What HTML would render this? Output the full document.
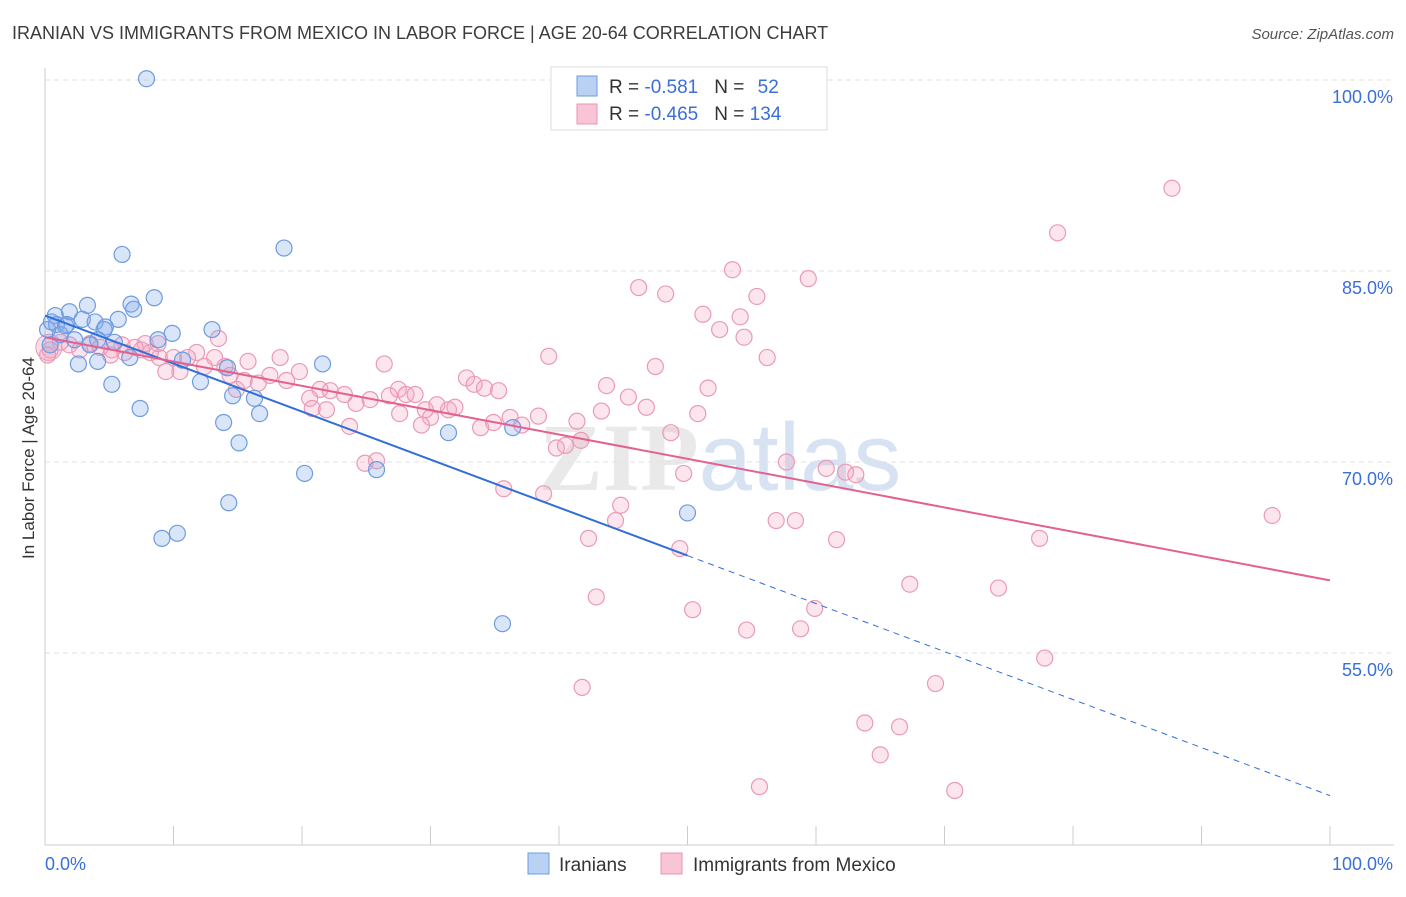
<!DOCTYPE html>
<html><head><meta charset="utf-8"><style>
body{margin:0;background:#fff;font-family:"Liberation Sans",sans-serif;}
</style></head><body>
<svg id="c" width="1406" height="892" xmlns="http://www.w3.org/2000/svg">
<text x="12" y="39" font-size="18" fill="#3c3c3c">IRANIAN VS IMMIGRANTS FROM MEXICO IN LABOR FORCE | AGE 20-64 CORRELATION CHART</text>
<text x="1394" y="39" font-size="15" fill="#555" font-style="italic" text-anchor="end">Source: ZipAtlas.com</text>
<text x="720" y="490" font-size="96" font-weight="bold" fill="#d8d8d8" opacity="0.55" text-anchor="middle" font-family="Liberation Serif, serif">ZIP<tspan fill="#b8cdea" font-family="Liberation Sans, sans-serif" font-weight="normal">atlas</tspan></text>
<g id="grid"></g><g id="axes"></g><g id="pts"></g><g id="lines"></g>
<text transform="translate(34,458) rotate(-90)" font-size="17" fill="#333" text-anchor="middle">In Labor Force | Age 20-64</text>
<g>
<rect x="551" y="67" width="276" height="63" fill="#fff" stroke="#ddd"/>
<rect x="577" y="76" width="20" height="20" fill="#b9d1f3" stroke="#6f9be0"/>
<rect x="577" y="104" width="20" height="20" fill="#f9c5d6" stroke="#e895b2"/>
<text x="609" y="93" font-size="19" fill="#333">R = <tspan fill="#3a6fd8">-0.581</tspan><tspan dx="16">N = </tspan><tspan dx="8" fill="#3a6fd8">52</tspan></text>
<text x="609" y="120" font-size="19" fill="#333">R = <tspan fill="#3a6fd8">-0.465</tspan><tspan dx="16">N = </tspan><tspan fill="#3a6fd8">134</tspan></text>
</g>
<g>
<rect x="528" y="853" width="21" height="21" fill="#b9d1f3" stroke="#6f9be0"/>
<text x="559" y="871" font-size="19" fill="#333">Iranians</text>
<rect x="661" y="853" width="21" height="21" fill="#f9c5d6" stroke="#e895b2"/>
<text x="693" y="871" font-size="19" fill="#333">Immigrants from Mexico</text>
</g>
</svg>
<script>
const yTicks=[100,85,70,55];
const xTickLabels=["0.0%","100.0%"];
const blueX=[7.9,6.0,18.6,8.5,6.7,6.9,3.3,1.9,0.8,0.9,1.7,2.9,3.9,4.7,5.7,4.6,1.2,2.3,4.1,5.4,3.5,0.4,9.9,13.0,8.8,10.7,6.6,2.6,4.1,21.6,5.2,12.1,14.2,14.6,16.3,16.7,7.4,13.9,15.1,31.4,36.4,20.2,25.8,14.3,50.0,9.1,10.3,35.6,0.2,0.5,1.6];
const blueY=[100.1,86.3,86.8,82.9,82.4,82.0,82.3,81.8,81.5,80.8,80.8,81.2,81.0,80.6,81.2,80.4,80.0,79.6,79.6,79.4,79.2,79.2,80.1,80.4,79.6,78.0,78.2,77.7,77.9,77.7,76.1,76.3,77.4,75.2,75.0,73.8,74.2,73.1,71.5,72.3,72.7,69.1,69.4,66.8,66.0,64.0,64.4,57.3,80.4,81.0,80.7];
const pinkX=[87.7,78.8,53.5,59.4,46.2,48.3,55.4,51.2,54.1,52.5,54.4,39.2,56.2,47.5,26.4,43.7,51.6,45.4,43.3,46.8,50.8,32.8,33.4,34.2,35.3,48.7,41.4,38.4,36.2,37.1,34.9,33.9,30.5,31.4,31.9,29.6,30.0,29.3,27.5,28.1,28.8,26.8,27.6,25.3,24.2,23.3,22.2,21.4,20.6,21.9,20.8,19.8,18.8,18.3,17.5,16.6,15.5,14.4,14.9,13.2,14.0,11.8,12.4,11.1,10.5,9.4,10.0,8.9,8.2,7.8,7.0,6.2,5.2,4.3,3.5,2.7,1.9,1.2,0.4,0.2,6.0,5.1,7.5,8.8,13.5,15.8,23.7,24.9,25.8,38.8,39.8,40.5,41.7,35.7,49.7,57.7,60.8,62.3,63.1,44.8,44.4,42.3,56.9,58.4,61.6,77.4,95.5,49.4,42.9,50.4,59.9,67.3,74.2,54.6,58.8,77.8,41.8,69.3,63.8,66.5,65.0,55.6,70.8,47.5];
const pinkY=[91.5,88.0,85.1,84.4,83.7,83.2,83.0,81.6,81.4,80.4,79.8,78.3,78.2,77.5,77.7,76.0,75.8,75.1,74.0,74.3,73.8,76.6,76.1,75.8,75.6,72.3,73.2,73.6,73.5,72.9,73.1,72.7,74.5,74.1,74.3,74.1,73.5,72.9,75.7,75.3,75.3,75.2,73.8,74.9,74.6,75.3,75.6,75.7,75.0,74.1,74.2,77.1,76.4,78.2,76.8,76.2,76.4,76.8,75.7,78.2,77.5,78.6,77.5,78.2,77.1,77.1,78.2,78.2,78.6,79.3,79.0,78.6,78.8,79.0,79.3,78.8,79.2,79.4,78.8,78.4,79.2,78.4,78.8,79.3,79.7,77.9,72.8,69.9,70.1,67.5,71.1,71.3,71.7,67.9,69.1,70.0,69.5,69.2,69.0,66.6,65.4,64.0,65.4,65.4,63.9,64.0,65.8,63.2,59.4,58.4,58.5,60.4,60.1,56.8,56.9,54.6,52.3,52.6,49.5,49.2,47.0,44.5,44.2,100.1];
const blueFit=[81.5,-0.377];
const pinkFit=[79.8,-0.191];
const X=v=>45+v*12.85, Y=v=>80+(100-v)*12.733;
const NS="http://www.w3.org/2000/svg";
function mk(p,t,a){const e=document.createElementNS(NS,t);for(const k in a)e.setAttribute(k,a[k]);p.appendChild(e);return e;}
const g=document.getElementById('grid'),ax=document.getElementById('axes'),pts=document.getElementById('pts'),ln=document.getElementById('lines');
yTicks.forEach(t=>{const l=mk(g,'line',{x1:45,x2:1394,y1:Y(t),y2:Y(t),stroke:'#e2e2e2','stroke-dasharray':'5,4'});


const tx=mk(ax,'text',{x:1393,y:Y(t)+23,'font-size':18,fill:'#3a6fd8','text-anchor':'end'});tx.textContent=t.toFixed(1)+'%';

});
const xa=mk(ax,'line',{x1:45,x2:1394,y1:845,y2:845,stroke:'#ccc'});


mk(ax,'line',{x1:45,x2:45,y1:68,y2:845,stroke:'#ccc'});
for(let i=0;i<=10;i++){const t=mk(ax,'line',{x1:X(i*10),x2:X(i*10),y1:826,y2:845,stroke:'#ccc'});

}
[[0,'start',45],[100,'end',1393]].forEach((d,i)=>{const t=mk(ax,'text',{x:d[2],y:870,'font-size':18,fill:'#3a6fd8','text-anchor':d[1]});t.textContent=xTickLabels[i];

});
const big=mk(pts,'circle',{cx:X(0.3),cy:Y(79),r:13,fill:'rgba(240,150,180,0.3)',stroke:'#e895b2'});


pinkX.forEach((v,i)=>{const c=mk(pts,'circle',{cx:X(v),cy:Y(pinkY[i]),r:8,fill:'rgba(244,160,190,0.28)',stroke:'#ea9ab6','stroke-width':1.2});

});
blueX.forEach((v,i)=>{const c=mk(pts,'circle',{cx:X(v),cy:Y(blueY[i]),r:8,fill:'rgba(130,170,235,0.3)',stroke:'#6f9be0','stroke-width':1.2});

});
const f=(a,x)=>a[0]+a[1]*x;
const b1=mk(ln,'line',{x1:X(0),y1:Y(f(blueFit,0)),x2:X(50),y2:Y(f(blueFit,50)),stroke:'#2f6fd6','stroke-width':2});


const b2=mk(ln,'line',{x1:X(50),y1:Y(f(blueFit,50)),x2:X(100),y2:Y(f(blueFit,100)),stroke:'#2f6fd6','stroke-width':1,'stroke-dasharray':'6,5'});


const p1=mk(ln,'line',{x1:X(0),y1:Y(f(pinkFit,0)),x2:X(100),y2:Y(f(pinkFit,100)),stroke:'#e4608e','stroke-width':2});


</script>
</body></html>
